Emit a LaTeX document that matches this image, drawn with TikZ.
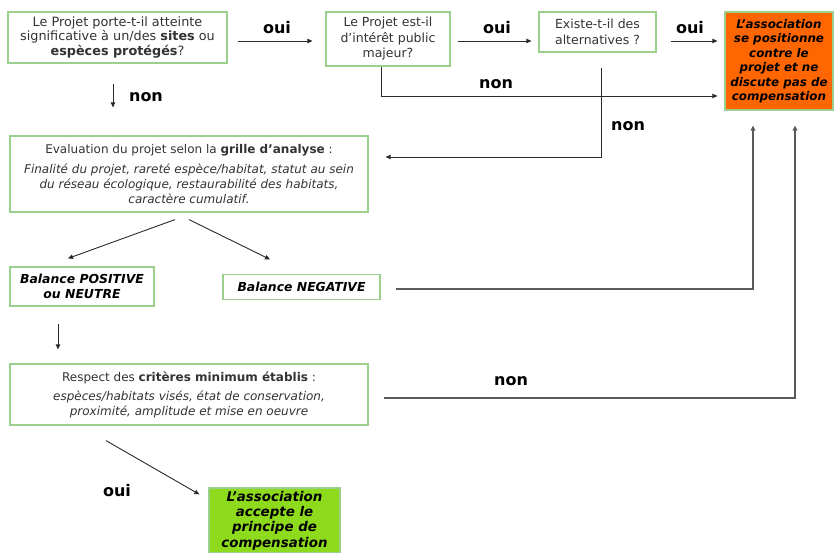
\documentclass[tikz,border=0pt]{standalone}
\usepackage{fontspec}
\setmainfont{DejaVu Sans}
\usetikzlibrary{arrows.meta,calc}
\definecolor{boxgreen}{HTML}{9ACF8E}
\definecolor{orangefill}{HTML}{FF6600}
\definecolor{limefill}{HTML}{8EDB1E}
\definecolor{txt}{HTML}{333333}
\definecolor{conn}{HTML}{2A2A2A}
\definecolor{retline}{HTML}{5A5A5A}
\begin{document}
\begin{tikzpicture}[x=1pt,y=-1pt,
  box/.style={draw=boxgreen, line width=1.2pt, fill=white, inner sep=0pt, align=center, text=txt},
  arr/.style={draw=conn, line width=0.9pt, -{Triangle[length=5pt,width=4.5pt]}},
  ret/.style={draw=retline, line width=1.2pt, -{Triangle[length=5pt,width=4.5pt]}},
  lbl/.style={font=\fontsize{16}{18}\selectfont\bfseries, text=black, inner sep=0pt}]
\useasboundingbox (0,0) rectangle (836,553);

% helper coordinates
\coordinate (y41) at (0,41);
\coordinate (y96) at (0,96);
\coordinate (y157) at (0,157);
\coordinate (y289) at (0,289);
\coordinate (y398) at (0,398);
\coordinate (x113) at (113,0);
\coordinate (x381) at (381,0);
\coordinate (x601) at (601,0);
\coordinate (x58) at (58,0);
\coordinate (x753) at (753,0);
\coordinate (x795) at (795,0);

% boxes
\node[box, minimum width=219pt, minimum height=51pt, font=\fontsize{12.8}{14.5}\selectfont] (B1) at (117.5,37.5)
  {Le Projet porte-t-il atteinte\\significative à un/des \textbf{sites} ou\\\textbf{espèces protégés}?};
\node[box, minimum width=124pt, minimum height=54pt, font=\fontsize{12.5}{15.5}\selectfont] (B2) at (388,39)
  {Le Projet est-il\\d’intérêt public\\majeur?};
\node[box, minimum width=117pt, minimum height=40pt, font=\fontsize{12.5}{15.5}\selectfont] (B3) at (597.5,32)
  {Existe-t-il des\\alternatives ?};
\node[box, fill=orangefill, text=black, minimum width=108pt, minimum height=98pt, font=\fontsize{11.9}{14.5}\selectfont\bfseries\itshape] (OR) at (779,61)
  {L’association\\se positionne\\contre le\\projet et ne\\discute pas de\\compensation};
\node[box, minimum width=358pt, minimum height=76pt, font=\fontsize{12}{15}\selectfont] (B4) at (189,174)
  {Evaluation du projet selon la \textbf{grille d’analyse} :\\[5pt]
   {\itshape Finalité du projet, rareté espèce/habitat, statut au sein}\\
   {\itshape du réseau écologique, restaurabilité des habitats,}\\
   {\itshape caractère cumulatif.}};
\node[box, text=black, minimum width=144pt, minimum height=39pt, font=\fontsize{12.4}{15}\selectfont\bfseries\itshape] (B5) at (82,286.5)
  {Balance POSITIVE\\ou NEUTRE};
\node[box, text=black, minimum width=157pt, minimum height=25pt, font=\fontsize{12.4}{15}\selectfont\bfseries\itshape] (B6) at (301.5,287)
  {Balance NEGATIVE};
\node[box, minimum width=358pt, minimum height=61pt, font=\fontsize{12}{14.5}\selectfont] (B7) at (189,394.5)
  {Respect des \textbf{critères minimum établis} :\\[5pt]
   {\itshape espèces/habitats visés, état de conservation,}\\
   {\itshape proximité, amplitude et mise en oeuvre}};
\node[box, fill=limefill, text=black, minimum width=131pt, minimum height=65pt, font=\fontsize{13.4}{15.3}\selectfont\bfseries\itshape] (G) at (274.5,520.5)
  {L’association\\accepte le\\principe de\\compensation};

% connectors
\draw[arr, shorten <=10pt, shorten >=13pt] (B1.east |- y41) -- (B2.west |- y41);
\draw[arr, shorten <=7pt, shorten >=7pt] (B2.east |- y41) -- (B3.west |- y41);
\draw[arr, shorten <=14pt, shorten >=7pt] (B3.east |- y41) -- (OR.west |- y41);
\draw[arr, shorten <=20pt, shorten >=28pt] (B1.south -| x113) -- (B4.north -| x113);
\draw[arr, shorten >=7pt] (B2.south -| x381) -- (x381 |- y96) -- (OR.west |- y96);
\draw[arr, shorten <=15pt, shorten >=17pt] (B3.south -| x601) -- (x601 |- y157) -- (B4.east |- y157);
\draw[arr] ([xshift=-14pt,yshift=-7pt]B4.south) -- ([xshift=-14pt,yshift=8pt]B5.north);
\draw[arr] ([yshift=-7pt]B4.south) -- ([xshift=-31.5pt,yshift=14.5pt]B6.north);
\draw[ret, shorten <=15pt, shorten >=15pt] (B6.east |- y289) -- (x753 |- y289) -- (x753 |- OR.south);
\draw[arr, shorten <=17pt, shorten >=14pt] (B5.south -| x58) -- (B7.north -| x58);
\draw[ret, shorten <=15pt, shorten >=15pt] (B7.east |- y398) -- (x795 |- y398) -- (x795 |- OR.south);
\draw[arr] ([xshift=-83pt,yshift=-15pt]B7.south) -- ([xshift=-9pt,yshift=-7pt]G.north west);

% labels
\node[lbl] (oui1) at (277,28) {oui};
\node[lbl] (oui2) at (497,28) {oui};
\node[lbl] (oui3) at (690,28) {oui};
\node[lbl] (oui4) at (117,491) {oui};
\node[lbl] (non1) at (146,97) {non};
\node[lbl] (non2) at (496,84) {non};
\node[lbl] (non3) at (628,126) {non};
\node[lbl] (non4) at (511,381) {non};
\end{tikzpicture}
\end{document}
